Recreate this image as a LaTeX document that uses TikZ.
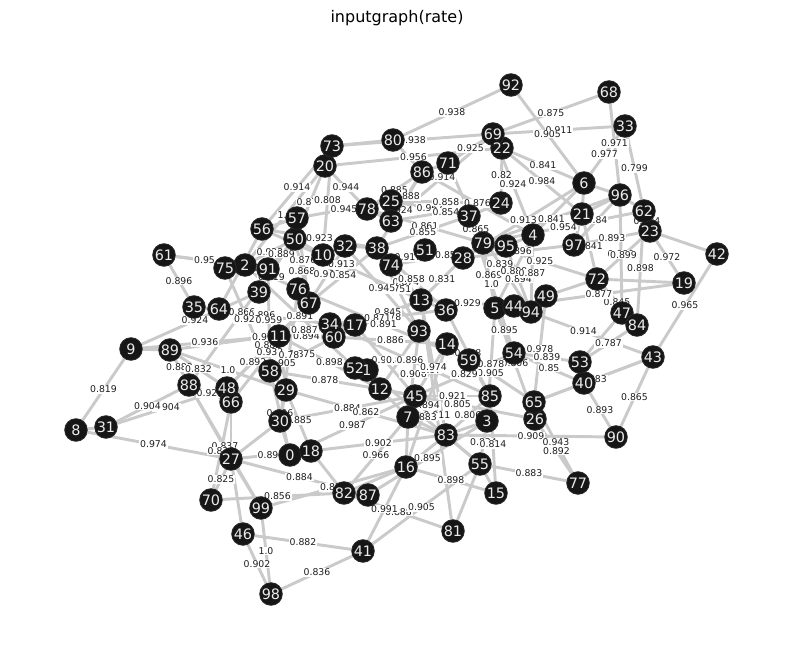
\documentclass[tikz,border=0pt]{standalone}
\usepackage{fontspec}
\setmainfont{DejaVu Sans}
\pgfdeclarelayer{bg}
\pgfdeclarelayer{mid}
\pgfsetlayers{bg,mid,main}
\tikzset{
  nd/.style={circle, fill={rgb,255:red,22;green,22;blue,22}, draw={rgb,255:red,40;green,40;blue,40}, line width=0.6pt, minimum size=17pt, inner sep=0pt},
  ntext/.style={text={rgb,255:red,235;green,235;blue,235}, font=\fontsize{10.8}{10.8}\selectfont, inner sep=0pt},
  edge/.style={draw={rgb,255:red,202;green,202;blue,202}, line width=2.2pt},
  elab/.style={font=\fontsize{7}{7}\selectfont, fill=white, inner sep=0.6pt, text={rgb,255:red,30;green,30;blue,30}},
  ttl/.style={font=\fontsize{12}{14}\selectfont}
}
\def\NodeList{0/290/455, 1/367/370, 2/245/265, 3/487/421, 4/533/235, 5/495/308, 6/584/183, 7/408/417, 8/76/430, 9/131/349,
10/323/255, 11/279/336, 12/380/389, 13/421/300, 14/447/344, 15/496/493, 16/406/467, 17/355/325, 18/311/451, 19/684/283,
20/325/166, 21/582/214, 22/502/148, 23/650/231, 24/501/203, 25/391/201, 26/535/419, 27/231/459, 28/463/258, 29/286/390,
30/280/421, 31/106/427, 32/345/246, 33/625/126, 34/330/324, 35/194/307, 36/446/310, 37/469/216, 38/377/248, 39/259/292,
40/584/383, 41/363/551, 42/717/254, 43/653/357, 44/514/306, 45/415/396, 46/243/534, 47/622/313, 48/227/388, 49/546/296,
50/295/239, 51/425/250, 52/355/368, 53/580/362, 54/514/353, 55/480/464, 56/262/229, 57/297/218, 58/270/371, 59/469/360,
60/334/337, 61/164/255, 62/644/211, 63/391/221, 64/219/309, 65/534/402, 66/231/402, 67/309/303, 68/609/92, 69/493/134,
70/211/500, 71/448/163, 72/597/279, 73/332/146, 74/391/265, 75/225/268, 76/298/289, 77/578/483, 78/367/209, 79/483/243,
80/393/140, 81/453/531, 82/344/493, 83/446/435, 84/637/325, 85/490/396, 86/422/172, 87/368/495, 88/189/385, 89/170/350,
90/616/437, 91/268/269, 92/511/85, 93/419/331, 94/531/312, 95/506/246, 96/620/195, 97/574/245, 98/271/594, 99/261/508}
\def\LabEdges{80/92/0.938, 69/68/0.875, 69/33/0.911, 92/6/0.905, 68/96/0.971, 6/33/0.977, 33/62/0.799, 73/69/0.938,
71/69/0.925, 20/22/0.956, 63/69/0.914, 56/73/0.914, 20/78/0.944, 50/20/0.879, 73/10/0.808, 2/20/1.0, 57/25/0.945,
78/86/0.885, 63/86/0.888, 86/38/0.924, 25/37/0.967, 25/24/0.858, 63/24/0.854, 78/79/0.861, 38/37/0.855, 86/4/0.876,
22/24/0.82, 69/4/0.924, 22/6/0.841, 22/21/0.984, 6/28/0.913, 96/79/0.841, 62/79/0.954, 96/97/0.84, 62/23/0.904,
61/35/0.896, 61/2/0.95, 75/91/0.885, 2/50/0.922, 91/50/0.889, 2/76/0.919, 88/50/0.866, 35/34/0.896, 75/58/0.927,
91/58/0.959, 9/11/0.936, 9/39/0.924, 2/52/0.891, 11/60/0.894, 11/34/0.887, 89/17/0.97, 48/67/0.882, 66/67/0.932,
58/60/0.875, 30/76/0.78, 11/29/0.905, 48/11/0.892, 89/29/1.0, 89/88/0.883, 89/48/0.832, 88/66/0.929, 31/48/0.904,
31/88/0.904, 9/8/0.819, 8/27/0.974, 88/99/0.837, 66/70/0.836, 27/18/0.897, 27/87/0.884, 27/70/0.825, 70/82/0.856,
0/45/0.987, 18/83/0.902, 82/7/0.966, 87/3/0.895, 99/16/0.857, 82/81/0.888, 41/16/0.991, 41/55/0.905, 46/41/0.882,
99/98/1.0, 46/98/0.902, 41/98/0.836, 45/85/0.921, 12/26/0.805, 14/16/0.894, 13/81/0.911, 1/55/0.883, 83/85/0.806,
83/90/0.909, 65/77/0.943, 26/77/0.892, 3/55/0.834, 85/15/0.814, 55/77/0.883, 16/15/0.898, 40/90/0.893, 43/90/0.865,
5/54/0.895, 49/65/0.978, 54/53/0.839, 54/40/0.85, 5/26/0.806, 5/3/0.878, 14/65/0.905, 45/54/0.829, 44/43/0.914,
53/84/0.787, 96/47/0.989, 72/23/0.899, 62/84/0.898, 72/84/0.845, 19/44/0.877, 97/23/0.893, 21/72/0.841, 23/19/0.972,
42/43/0.965, 28/97/0.896, 79/72/0.925, 37/94/0.839, 79/5/0.869, 4/5/0.889, 95/94/0.894, 4/94/0.887, 37/54/1.0,
28/13/0.831, 74/13/0.874, 38/36/0.858, 38/93/0.751, 32/93/0.945, 13/44/0.929, 17/13/0.845, 34/36/0.878, 60/13/0.871,
76/59/0.891, 60/14/0.886, 17/45/0.917, 93/7/0.906, 14/45/0.97, 93/12/0.866, 34/85/0.896, 13/83/0.974, 58/12/0.878,
11/12/0.898, 30/45/0.884, 29/83/0.862, 58/0/0.806, 29/18/0.885, 50/67/0.868, 57/67/0.876, 56/13/0.913, 32/67/0.960,
38/67/0.854, 74/95/0.853, 51/74/0.917, 36/85/0.928, 65/43/0.883, 37/79/0.865, 56/38/0.923}
\def\PlainEdges{9/89, 8/31, 35/64, 75/2, 2/91, 56/57, 57/50, 50/10, 10/32, 32/38, 38/74, 74/51, 51/28, 28/79, 79/95,
95/4, 97/21, 21/6, 6/96, 96/62, 69/22, 71/86, 80/73, 73/20, 25/63, 78/63, 37/24, 76/67, 39/91, 34/60, 34/17, 58/29,
29/30, 30/0, 0/18, 82/87, 55/15, 65/26, 53/40, 47/84, 5/44, 44/94, 94/49, 13/36, 14/59, 45/7, 52/1, 66/48, 27/66,
3/85, 83/7, 71/79, 6/4, 23/42, 72/19, 47/53, 40/43, 65/40, 59/85, 16/83, 16/7, 82/16, 18/82, 27/46, 27/99, 27/30,
88/27, 56/64, 81/55, 83/3, 83/55, 12/45, 12/7, 49/72, 21/96, 61/91, 80/86}
\begin{document}
\begin{tikzpicture}[x=0.75pt,y=-0.75pt]
\useasboundingbox (0,0) rectangle (794,658);
\node[ttl] (title) at (397,18) {inputgraph(rate)};
\foreach \i/\x/\y in \NodeList { \node[nd] (v\i) at (\x,\y) {}; }
\foreach \i/\x/\y in \NodeList { \node[ntext] (t\i) at (v\i) {\i}; }
\begin{pgfonlayer}{bg}
\foreach \a/\b/\l in \LabEdges { \draw[edge] (v\a) -- (v\b); }
\foreach \a/\b in \PlainEdges { \draw[edge] (v\a) -- (v\b); }
\end{pgfonlayer}
\begin{pgfonlayer}{mid}
\foreach \a/\b/\l in \LabEdges { \path (v\a) -- node[elab] {\l} (v\b); }
\end{pgfonlayer}
\end{tikzpicture}
\end{document}
